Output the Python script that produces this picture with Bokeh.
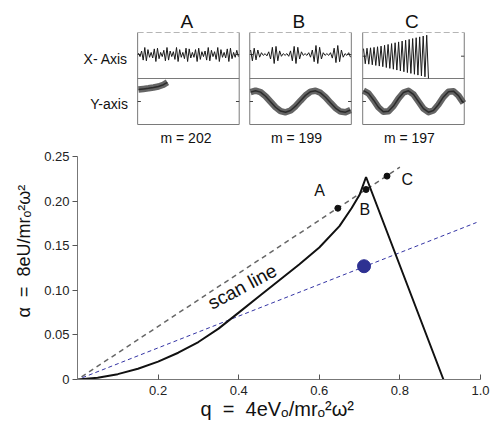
import math
from bokeh.plotting import figure
from bokeh.layouts import column
from bokeh.models import Range1d, FixedTicker, PrintfTickFormatter, Label, Title
from bokeh.embed import file_html
from bokeh.resources import INLINE

# ---------------- data: main stability diagram ----------------
boundary_q = [0, 0.05, 0.10, 0.15, 0.20, 0.25, 0.30, 0.35, 0.40, 0.45, 0.50,
              0.55, 0.60, 0.65, 0.68, 0.70, 0.716, 0.908]
boundary_a = [0, 0.002, 0.006, 0.012, 0.020, 0.030, 0.042, 0.057, 0.075, 0.093,
              0.111, 0.129, 0.148, 0.172, 0.192, 0.207, 0.227, 0.0]
scan_q = [0.01, 0.80]
scan_a = [0.003, 0.238]
blue_q = [0.012, 0.99]
blue_a = [0.002, 0.176]
point_names = ["A", "B", "C"]
point_q = [0.646, 0.716, 0.768]
point_a = [0.192, 0.213, 0.228]
label_q = [0.601, 0.713, 0.818]
label_a = [0.212, 0.191, 0.224]
blue_point_q = [0.711]
blue_point_a = [0.127]
scan_text_q = 0.409
scan_text_a = 0.104
x_ticks = [0.2, 0.4, 0.6, 0.8, 1.0]
y_ticks = [0, 0.05, 0.10, 0.15, 0.20, 0.25]
NB = "\u00a0"
x_title = f"q{NB}{NB}={NB}{NB}4eVₒ/mrₒ²ω²"
y_title = f"α{NB}{NB}={NB}{NB}8eU/mrₒ²ω²"

# ---------------- data: ion trajectories (top panels) ----------------
panel_names = ["A", "B", "C"]
masses = [202, 199, 197]
# X-axis traces: successive turning points (relative amplitude)
A_x = [0.2, -0.3, 0.5, -0.8, 1.0, -0.9, 0.7, -0.4, 0.3, -0.5,
       0.8, -1.0, 0.9, -0.6, 0.3, -0.3, 0.6, -0.9, 1.0, -0.8,
       0.5, -0.3, 0.4, -0.7, 1.0, -1.0, 0.7, -0.4, 0.3, -0.6,
       0.9, -1.0, 0.8, -0.5, 0.3, -0.4, 0.7, -1.0, 0.9, -0.7,
       0.4, -0.3, 0.5, -0.8, 1.0, -0.9, 0.6, -0.3, 0.4, -0.7,
       1.0, -1.0, 0.7, -0.4, 0.3, -0.5, 0.8, -1.0, 0.9, -0.6,
       0.3, -0.4, 0.6, -0.3]
B_x = [0.5, -0.7, 0.7, -0.6, 0.5, -0.3, 0.2, -0.1, 0.1, -0.15,
       0.3, -0.5, 0.8, -1.0, 0.9, -0.7, 0.4, -0.2, 0.1, -0.1, 0.1, -0.2,
       0.4, -0.7, 0.9, -1.0, 0.8, -0.5, 0.3, -0.1, 0.1, -0.1, 0.2, -0.3,
       0.5, -0.8, 1.0, -1.0, 0.8, -0.5, 0.2, -0.1, 0.1, -0.1, 0.2, -0.4,
       0.7, -0.9, 1.0, -0.8, 0.5, -0.3, 0.1, -0.1, 0.2, -0.3]
C_x = [0.36, -0.36, 0.38, -0.38, 0.40, -0.41, 0.42, -0.44, 0.45, -0.47,
       0.48, -0.50, 0.52, -0.54, 0.56, -0.58, 0.60, -0.62, 0.64, -0.66,
       0.68, -0.70, 0.72, -0.74, 0.76, -0.78, 0.80, -0.82, 0.84, -0.86,
       0.88, -0.90, 0.92, -0.94, 0.96, -0.98, 1.0, -1.06]
x_trace_end = [1.0, 1.0, 0.65]          # fraction of the record before ejection
# Y-axis traces: slow secular motion (time fraction, relative displacement)
A_y_t = [0, 0.05, 0.10, 0.15, 0.20, 0.25, 0.29]
A_y = [1.0, 1.05, 1.10, 1.17, 1.25, 1.40, 1.60]
B_y_t = [0, 0.05, 0.10, 0.15, 0.20, 0.25, 0.30, 0.35, 0.40, 0.45, 0.50,
         0.55, 0.60, 0.65, 0.70, 0.75, 0.80, 0.85, 0.90, 0.95, 1.00]
B_y = [0.78, 0.90, 0.78, 0.44, -0.02, -0.48, -0.80, -0.90, -0.75, -0.39, 0.07,
       0.51, 0.82, 0.89, 0.72, 0.35, -0.11, -0.55, -0.84, -0.89, -0.71]
C_y_t = B_y_t
C_y = [0.90, 0.68, 0.13, -0.49, -0.86, -0.82, -0.38, 0.25, 0.75, 0.89, 0.59,
       0.00, -0.59, -0.89, -0.75, -0.25, 0.38, 0.82, 0.86, 0.49, -0.13]

# ---------------- layout constants (top panel canvas, px) ----------------
W = 496
TOP_H = 150
MAIN_H = 271
panel_left = [74, 212, 351]
panel_w = 125
box_top, box_mid, box_bot = 32, 78, 124
x_center = [54, 54, 55.7]
x_amp = [7, 9, 21]
y_center = 101
y_amp = 12
FONT = "Liberation Sans"

top = figure(width=W, height=TOP_H, x_range=Range1d(0, W), y_range=Range1d(TOP_H, 0),
             output_backend="svg", toolbar_location=None,
             x_axis_location=None, y_axis_location=None,
             min_border_left=0, min_border_right=0, min_border_top=0, min_border_bottom=0)
top.grid.visible = False
top.outline_line_color = None

x_traces = [A_x, B_x, C_x]
y_traces = [(A_y_t, A_y), (B_y_t, B_y), (C_y_t, C_y)]
for i in range(3):
    L = panel_left[i]
    R = L + panel_w
    # frame
    top.segment(x0=[L, R, L, L], y0=[box_top, box_top, box_bot, box_mid],
                x1=[L, R, R, R], y1=[box_bot, box_bot, box_bot, box_mid],
                line_color="#7a7a7a", line_width=1)
    top.segment(x0=[L], y0=[box_top], x1=[R], y1=[box_top],
                line_color="#b5b5b5", line_width=1, line_dash="6 3")
    # small ticks
    top.segment(x0=[L, R - 4, L, R - 4], y0=[x_center[i], x_center[i], y_center, y_center],
                x1=[L + 4, R, L + 4, R], y1=[x_center[i], x_center[i], y_center, y_center],
                line_color="#444", line_width=1)
    # X trace
    vals = x_traces[i]
    n = len(vals)
    xs = [L + 1 + (panel_w - 2) * x_trace_end[i] * k / (n - 1) for k in range(n)]
    ys = [x_center[i] - v * x_amp[i] for v in vals]
    top.line(xs, ys, line_color="#1a1a1a", line_width=1)
    # Y trace (band of fast micromotion around the slow motion)
    tt, yy = y_traces[i]
    xs2 = [L + 1 + (panel_w - 2) * t for t in tt]
    ys2 = [y_center - v * y_amp for v in yy]
    top.line(xs2, ys2, line_color="#4a4a4a", line_width=6.5, line_alpha=0.85, line_join="round")
    top.line(xs2, ys2, line_color="#1e1e1e", line_width=1.5, line_join="round", line_alpha=0.8)
    # labels
    cx = L + panel_w / 2
    top.add_layout(Label(x=cx - 2, y=21, text=panel_names[i], text_align="center",
                         text_baseline="middle", text_font=FONT, text_font_size="19px",
                         text_color="#111"))
    top.add_layout(Label(x=cx - 5 + (i == 0) * 2, y=137, text=f"m = {masses[i]}",
                         text_align="center", text_baseline="middle", text_font=FONT,
                         text_font_size="14px", text_color="#111"))
top.add_layout(Label(x=62, y=58, text="X- Axis", text_align="right", text_baseline="middle",
                     text_font=FONT, text_font_size="14px", text_color="#111"))
top.add_layout(Label(x=62, y=103, text="Y-axis", text_align="right", text_baseline="middle",
                     text_font=FONT, text_font_size="14px", text_color="#111"))

# ---------------- main figure ----------------
p = figure(width=W, height=MAIN_H, x_range=Range1d(0, 1.0), y_range=Range1d(0, 0.25),
           output_backend="svg", toolbar_location=None,
           min_border_left=77, min_border_right=16, min_border_top=6, min_border_bottom=42)
p.grid.visible = False
p.outline_line_color = None
p.xaxis.ticker = FixedTicker(ticks=x_ticks)
p.xaxis.formatter = PrintfTickFormatter(format="%.1f")
p.yaxis.ticker = FixedTicker(ticks=y_ticks)
p.yaxis.formatter = PrintfTickFormatter(format="%.2f")
p.yaxis.major_label_overrides = {0: "0"}
for ax in (p.xaxis, p.yaxis):
    ax.major_label_text_font = FONT
    ax.major_label_text_font_size = "13px"
    ax.major_label_text_color = "#222"
    ax.minor_tick_line_color = None
    ax.axis_line_color = "#777"
    ax.major_tick_line_color = "#555"
p.xaxis.major_tick_in = 5
p.xaxis.major_tick_out = 0
p.xaxis.major_label_standoff = 6
p.yaxis.major_tick_in = 0
p.yaxis.major_tick_out = 5
p.yaxis.major_label_standoff = 3

p.line(scan_q, scan_a, line_color="#666", line_width=1.5, line_dash="5 4")
p.line(blue_q, blue_a, line_color="#3434a4", line_width=1, line_dash="4 3")
p.line(boundary_q, boundary_a, line_color="#111", line_width=2)
p.scatter(point_q, point_a, size=6, color="#111")
p.scatter(blue_point_q, blue_point_a, size=13, color="#2e3192")
for name, lq, la in zip(point_names, label_q, label_a):
    p.add_layout(Label(x=lq, y=la, text=name, text_align="center", text_baseline="middle",
                       text_font=FONT, text_font_size="16px", text_color="#111"))
p.add_layout(Label(x=scan_text_q, y=scan_text_a, text="scan line", angle=28 * math.pi / 180,
                   text_align="center", text_baseline="alphabetic", text_font=FONT,
                   text_font_size="19px", text_color="#111"))

# axis titles as border titles (placed off-centre like the original)
p.add_layout(Title(text=y_title, align="left", offset=62, standoff=16,
                   text_font=FONT, text_font_size="18px", text_font_style="normal",
                   text_color="#111"), "left")
p.add_layout(Title(text=x_title, align="left", offset=123, standoff=0,
                   vertical_align="top",
                   text_font=FONT, text_font_size="20px", text_font_style="normal",
                   text_color="#111"), "below")

layout = column(top, p)
open("out.html", "w").write(file_html(layout, INLINE))
